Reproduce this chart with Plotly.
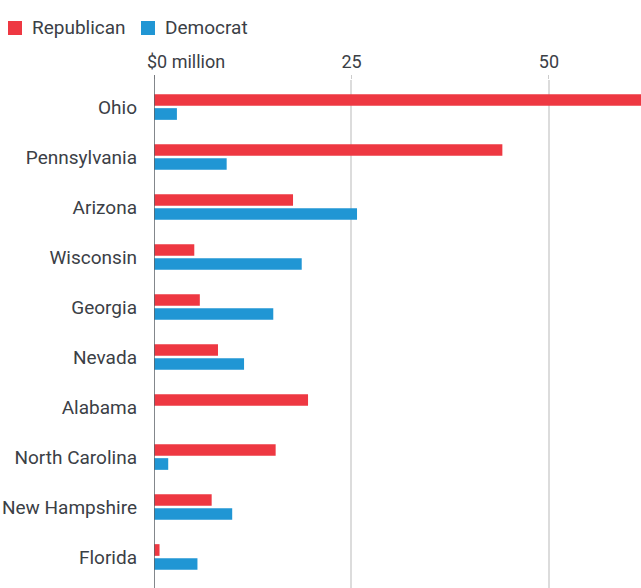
import plotly.graph_objects as go

states = ["Ohio", "Pennsylvania", "Arizona", "Wisconsin", "Georgia", "Nevada",
          "Alabama", "North Carolina", "New Hampshire", "Florida"]
republican = [62.0, 44.1, 17.6, 5.1, 5.8, 8.1, 19.5, 15.4, 7.3, 0.7]
democrat = [2.9, 9.2, 25.7, 18.7, 15.1, 11.4, 0.0, 1.8, 9.9, 5.5]
tick_vals = [0, 25, 50]
tick_text = ["", "25", "50"]
series_names = ["Republican", "Democrat"]

RED = "#ee3842"
BLUE = "#2096d4"
TXT = "#3b4046"
FONT = "Roboto"
W, H = 641, 588

fig = go.Figure()
fig.add_trace(go.Bar(y=states, x=republican, orientation="h", name=series_names[0],
                     marker=dict(color=RED, line=dict(width=0)), showlegend=False))
fig.add_trace(go.Bar(y=states, x=democrat, orientation="h", name=series_names[1],
                     marker=dict(color=BLUE, line=dict(width=0)), showlegend=False))

# manual legend (pixel layout converted to paper coords)
L, T = 154, 80
pw, ph = W - L, H - T
def px(x):
    return (x - L) / pw
def py(y):
    return (H - y) / ph

shapes = [dict(type="line", xref="x", yref="paper", x0=0, x1=0, y0=0, y1=1.01,
               line=dict(color="#5a5f66", width=1.5))]
annotations = [dict(text="$0 million", xref="x", yref="paper", x=0, y=1,
                    xanchor="left", yanchor="bottom", xshift=-9, yshift=6,
                    showarrow=False, font=dict(size=18, color=TXT))]
for name, col, sx in [(series_names[0], RED, 8), (series_names[1], BLUE, 141)]:
    shapes.append(dict(type="rect", xref="paper", yref="paper",
                       x0=px(sx), x1=px(sx + 14), y0=py(35), y1=py(21),
                       fillcolor=col, line=dict(width=0)))
    annotations.append(dict(text=name, xref="paper", yref="paper",
                            x=px(sx + 22), y=py(28), xanchor="left", yanchor="middle",
                            showarrow=False, font=dict(size=19, color=TXT)))

fig.update_layout(
    width=W, height=H,
    margin=dict(l=L, r=0, t=T, b=0),
    paper_bgcolor="white", plot_bgcolor="white",
    barmode="group", bargap=0.44, bargroupgap=0.165,
    font=dict(family=FONT, color=TXT, size=19),
    showlegend=False,
    xaxis=dict(side="top", range=[0, 61.65], tickvals=tick_vals, ticktext=tick_text,
               showgrid=True, gridcolor="#dcdcdc", gridwidth=1.5,
               zeroline=False, showline=False,
               ticks="outside", ticklen=4, tickcolor="#cccccc", tickwidth=1,
               tickfont=dict(size=18, color=TXT)),
    yaxis=dict(type="category", range=[9.62, -0.54], showgrid=False,
               zeroline=False, showline=False, ticks="",
               ticklabelstandoff=16, tickfont=dict(size=19, color=TXT)),
    shapes=shapes,
    annotations=annotations,
)

fig.write_html("out.html")
